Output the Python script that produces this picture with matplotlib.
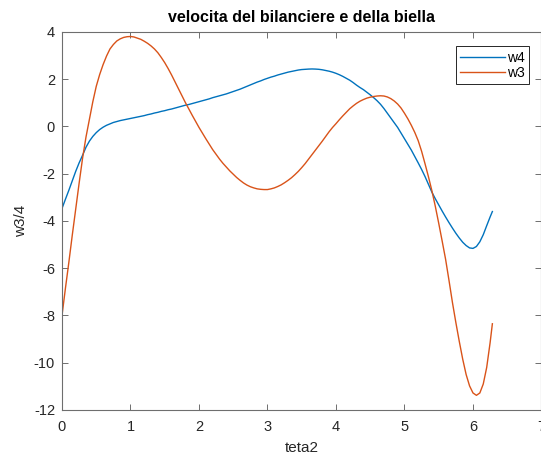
import numpy as np
import matplotlib.pyplot as plt

plt.rcParams['font.family'] = ['Liberation Sans', 'DejaVu Sans']
plt.rcParams['axes.unicode_minus'] = False

# angolo di manovella (rad), passo 0.05 fino a 2*pi
teta2 = list(np.round(np.arange(0, 6.26, 0.05), 2)) + [6.283]

# velocita angolare del bilanciere
w4 = [-3.47, -3.08, -2.70, -2.30, -1.90, -1.54, -1.22, -0.88, -0.62, -0.42,
      -0.26, -0.13, -0.03, 0.05, 0.11, 0.17, 0.21, 0.25, 0.28, 0.31,
      0.34, 0.37, 0.40, 0.43, 0.46, 0.50, 0.53, 0.57, 0.60, 0.64,
      0.67, 0.71, 0.74, 0.78, 0.82, 0.86, 0.90, 0.93, 0.97, 1.01,
      1.05, 1.09, 1.13, 1.17, 1.22, 1.26, 1.30, 1.34, 1.38, 1.43,
      1.48, 1.53, 1.58, 1.64, 1.70, 1.76, 1.82, 1.88, 1.93, 1.99,
      2.04, 2.09, 2.13, 2.18, 2.22, 2.26, 2.30, 2.33, 2.36, 2.39,
      2.41, 2.42, 2.43, 2.435, 2.43, 2.42, 2.40, 2.37, 2.34, 2.30,
      2.25, 2.19, 2.12, 2.04, 1.96, 1.86, 1.75, 1.65, 1.56, 1.45,
      1.34, 1.22, 1.09, 0.94, 0.76, 0.56, 0.36, 0.16, -0.04, -0.28,
      -0.52, -0.76, -1.00, -1.27, -1.54, -1.82, -2.12, -2.45, -2.78, -3.06,
      -3.32, -3.58, -3.83, -4.07, -4.30, -4.52, -4.72, -4.90, -5.04, -5.14,
      -5.16, -5.08, -4.88, -4.58, -4.20, -3.83,
      -3.60]

# velocita angolare della biella
w3 = [-8.00, -6.85, -5.75, -4.60, -3.50, -2.40, -1.35, -0.45, 0.30, 1.05,
      1.70, 2.20, 2.62, 2.98, 3.28, 3.47, 3.62, 3.71, 3.77, 3.80,
      3.81, 3.79, 3.74, 3.69, 3.61, 3.52, 3.41, 3.28, 3.12, 2.92,
      2.70, 2.45, 2.18, 1.89, 1.60, 1.31, 1.02, 0.75, 0.48, 0.22,
      -0.04, -0.28, -0.52, -0.75, -0.98, -1.18, -1.38, -1.56, -1.72, -1.88,
      -2.02, -2.16, -2.28, -2.39, -2.48, -2.55, -2.60, -2.64, -2.66, -2.67,
      -2.67, -2.64, -2.60, -2.54, -2.47, -2.38, -2.28, -2.17, -2.04, -1.90,
      -1.74, -1.57, -1.38, -1.19, -1.00, -0.81, -0.62, -0.42, -0.22, -0.04,
      0.12, 0.29, 0.45, 0.60, 0.75, 0.87, 0.98, 1.07, 1.14, 1.20,
      1.24, 1.27, 1.29, 1.30, 1.29, 1.25, 1.18, 1.08, 0.95, 0.78,
      0.56, 0.32, 0.05, -0.25, -0.60, -1.05, -1.58, -2.13, -2.72, -3.38,
      -4.10, -4.85, -5.62, -6.52, -7.45, -8.30, -9.10, -9.85, -10.50, -10.98,
      -11.28, -11.38, -11.28, -10.90, -10.20, -9.15,
      -8.35]

fig = plt.figure(figsize=(5.41, 4.59), dpi=100)
ax = fig.add_axes([0.1146, 0.1068, 0.8863, 0.8235])

ax.plot(teta2, w4, color='#0072BD', lw=1.0, label='w4')
ax.plot(teta2, w3, color='#D95319', lw=1.0, label='w3')

ax.set_xlim(0, 7)
ax.set_ylim(-12, 4)
ax.set_xticks(np.arange(0, 8, 1))
ax.set_yticks(np.arange(-12, 5, 2))

for s in ax.spines.values():
    s.set_color('#6e6e6e')
    s.set_linewidth(0.8)
ax.tick_params(direction='in', length=4, width=0.7, color='#6e6e6e',
               labelsize=10.5, labelcolor='#262626', top=True, right=True)
ax.tick_params(axis='x', pad=7)
ax.tick_params(axis='y', pad=5)

ax.set_title('velocita del bilanciere e della biella', fontsize=11.5,
             fontweight='bold', pad=7)
ax.set_xlabel('teta2', fontsize=11, color='#262626', labelpad=5)
ax.set_ylabel('w3/4', fontsize=11, color='#262626', labelpad=4)

leg = ax.legend(loc='upper right', bbox_to_anchor=(0.973, 0.962), fontsize=10,
                handlelength=3.2, handletextpad=0.15, borderpad=0.3,
                labelspacing=0.1, fancybox=False, framealpha=1,
                borderaxespad=0)
leg.get_frame().set_edgecolor('#262626')
leg.get_frame().set_linewidth(0.7)

fig.savefig('out.png', dpi=100)
